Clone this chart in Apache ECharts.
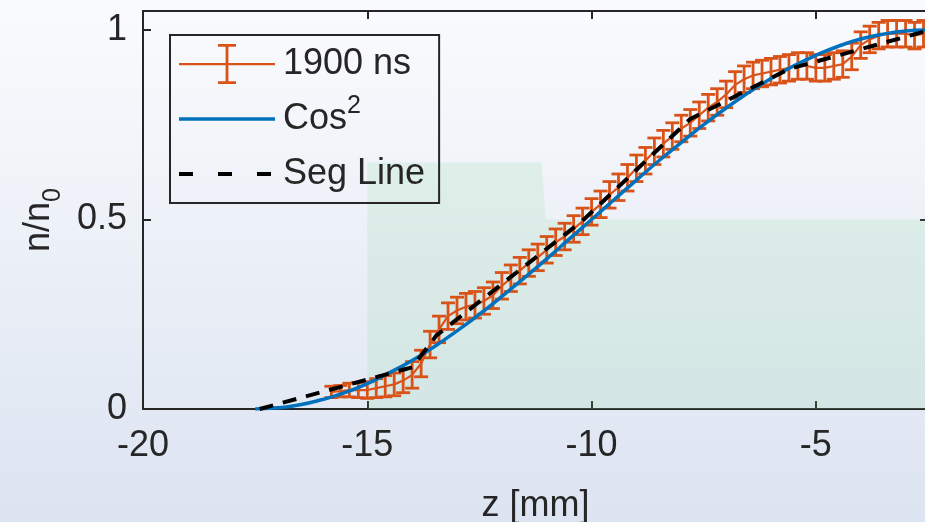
<!DOCTYPE html>
<html><head><meta charset="utf-8">
<script src="https://cdn.jsdelivr.net/npm/echarts@6/dist/echarts.min.js"></script>
<style>html,body{margin:0;padding:0;background:#fff}#c{width:925px;height:522px}</style>
</head><body><div id="c"></div>
<script>
// ---- data ----
const measZ = [-15.8,-15.6,-15.4,-15.2,-15.0,-14.8,-14.6,-14.4,-14.2,-14.0,-13.8,-13.6,-13.4,-13.2,-13.0,-12.8,-12.6,-12.4,-12.2,-12.0,-11.8,-11.6,-11.4,-11.2,-11.0,-10.8,-10.6,-10.4,-10.2,-10.0,-9.8,-9.6,-9.4,-9.2,-9.0,-8.8,-8.6,-8.4,-8.2,-8.0,-7.8,-7.6,-7.4,-7.2,-7.0,-6.8,-6.6,-6.4,-6.2,-6.0,-5.8,-5.6,-5.4,-5.2,-5.0,-4.8,-4.6,-4.4,-4.2,-4.0,-3.8,-3.6,-3.4,-3.2,-3.0,-2.8,-2.6];
const measN = [0.045,0.047,0.050,0.050,0.050,0.055,0.060,0.065,0.075,0.090,0.120,0.170,0.210,0.245,0.260,0.270,0.275,0.285,0.300,0.325,0.345,0.365,0.385,0.400,0.420,0.440,0.455,0.475,0.495,0.520,0.540,0.565,0.585,0.610,0.635,0.655,0.680,0.700,0.720,0.740,0.755,0.775,0.795,0.810,0.830,0.855,0.870,0.880,0.885,0.890,0.895,0.900,0.905,0.905,0.900,0.900,0.905,0.910,0.930,0.960,0.975,0.985,0.990,0.990,0.990,0.985,0.990];
const measErr = [0.015,0.015,0.018,0.020,0.022,0.025,0.028,0.030,0.032,0.035,0.035,0.035,0.035,0.035,0.035,0.035,0.035,0.035,0.035,0.035,0.035,0.035,0.035,0.035,0.035,0.035,0.035,0.035,0.035,0.035,0.035,0.035,0.035,0.035,0.035,0.035,0.035,0.035,0.035,0.035,0.035,0.035,0.035,0.035,0.035,0.035,0.035,0.035,0.035,0.035,0.035,0.035,0.035,0.035,0.035,0.035,0.035,0.035,0.035,0.035,0.035,0.035,0.035,0.035,0.035,0.035,0.035];
const cosZ = [-17.5,-17,-16.5,-16,-15.5,-15,-14.5,-14,-13.5,-13,-12.5,-12,-11.5,-11,-10.5,-10,-9.5,-9,-8.5,-8,-7.5,-7,-6.5,-6,-5.5,-5,-4.5,-4,-3.5,-3,-2.5];
const cosN = [0,0.003,0.011,0.025,0.043,0.067,0.096,0.128,0.165,0.206,0.250,0.297,0.346,0.396,0.448,0.500,0.552,0.604,0.655,0.703,0.750,0.794,0.835,0.872,0.905,0.933,0.957,0.976,0.989,0.997,1.000];
const segZ = [-17.4,-14.0,-13.45,-10.2,-7.8,-5.6,-2.6];
const segN = [0,0.110,0.195,0.497,0.765,0.897,0.995];
const patchZ = [-15,-11.12,-11.02,-2.5];
const patchN = [0.65,0.65,0.5,0.5];
const xTicks = [-20,-15,-10,-5];
const yTicks = [0,0.5,1];
const seriesNames = ['1900 ns','Cos2','Seg Line'];
const xLabel = 'z [mm]';

// ---- styles ----
const ORANGE = '#D95319', BLUE = '#0072BD', AX = '#262626';
const FONT = '"Liberation Sans", Arial, Helvetica, sans-serif';
const FS = 36;

const zip = (a, b) => a.map((v, i) => [v, b[i]]);
const errData = measZ.map((z, i) => [z, measN[i], measErr[i]]);

const chart = echarts.init(document.getElementById('c'), null, {renderer: 'canvas'});

const axisCommon = {
  axisLine: {show: true, onZero: false, lineStyle: {color: AX, width: 2}},
  axisTick: {show: true, inside: true, length: 8, lineStyle: {color: AX, width: 2}},
  splitLine: {show: false}
};

const option = {
  backgroundColor: {type: 'linear', x: 0, y: 0, x2: 0, y2: 1,
    colorStops: [{offset: 0, color: '#fafbfd'}, {offset: 1, color: '#dce4f1'}]},
  animation: false,
  textStyle: {fontFamily: FONT},
  grid: {left: 143, right: -3, top: 11, bottom: 113, containLabel: false, outerBoundsMode: 'none'},
  legend: {
    left: 170, top: 35, orient: 'vertical',
    padding: [4, 14, 4, 7],
    itemWidth: 96, itemHeight: 40, itemGap: 5,
    borderColor: AX, borderWidth: 2, backgroundColor: 'transparent',
    symbolKeepAspect: false,
    data: [
      {name: seriesNames[0], icon: 'path://M0 19 H96 V21.2 H0 Z M46.6 0 H49.4 V40 H46.6 Z M39 0 H57 V2.8 H39 Z M39 37.2 H57 V40 H39 Z'},
      {name: seriesNames[1], itemStyle: {opacity: 0}, lineStyle: {width: 3.5}},
      {name: seriesNames[2], itemStyle: {opacity: 0}, lineStyle: {width: 4, type: [14, 25]}}
    ],
    formatter: n => n === 'Cos2' ? 'Cos{s|2}' : n,
    textStyle: {fontFamily: FONT, fontSize: FS, color: AX, lineHeight: 50, padding: [0, 0, 0, 3],
      rich: {s: {fontFamily: FONT, fontSize: 25, color: AX, verticalAlign: 'top', lineHeight: 24}}}
  },
  xAxis: [
    Object.assign({type: 'value', min: -20, max: -2.5, interval: 5, position: 'bottom',
      name: xLabel, nameLocation: 'middle', nameGap: 79,
      nameTextStyle: {fontFamily: FONT, fontSize: FS, color: AX},
      axisLabel: {fontFamily: FONT, fontSize: FS, color: AX, margin: 19,
        formatter: v => xTicks.includes(v) ? String(v) : ''}}, axisCommon),
    Object.assign({type: 'value', min: -20, max: -2.5, interval: 5, position: 'top',
      axisLabel: {show: false}}, axisCommon)
  ],
  yAxis: [
    Object.assign({type: 'value', min: 0, max: 1.05, interval: 0.5, position: 'left',
      name: '{a|n/n}{b|0}', nameLocation: 'middle', nameRotate: 90, nameGap: 80,
      nameTextStyle: {padding: [0, 20, 0, 0], rich: {
        a: {fontFamily: FONT, fontSize: FS, color: AX, lineHeight: 36, verticalAlign: 'top'},
        b: {fontFamily: FONT, fontSize: 25, color: AX, lineHeight: 25, padding: [29, 0, 0, 0]}}},
      axisLabel: {fontFamily: FONT, fontSize: FS, color: AX, margin: 16,
        formatter: v => yTicks.includes(v) ? String(v) : ''}}, axisCommon),
    Object.assign({type: 'value', min: 0, max: 1.05, interval: 0.5, position: 'right',
      axisLabel: {show: false}}, axisCommon)
  ],
  series: [
    {name: 'patch', type: 'line', data: zip(patchZ, patchN), symbol: 'none', silent: true,
      lineStyle: {width: 0}, areaStyle: {color: 'rgba(141,216,161,0.25)', origin: 'start'}, z: 1},
    {name: seriesNames[0], type: 'line', data: zip(measZ, measN), symbol: 'none',
      itemStyle: {color: ORANGE}, lineStyle: {color: ORANGE, width: 2.2}, z: 3},
    {name: seriesNames[0], type: 'custom', data: errData, encode: {x: 0, y: 1}, z: 3,
      itemStyle: {color: ORANGE},
      renderItem: (params, api) => {
        const z = api.value(0), n = api.value(1), e = api.value(2);
        const hi = api.coord([z, n + e]), lo = api.coord([z, n - e]);
        const x = hi[0], hw = 7;
        const st = () => ({stroke: ORANGE, lineWidth: 2.8});
        return {type: 'group', children: [
          {type: 'line', shape: {x1: x, y1: hi[1], x2: x, y2: lo[1]}, style: st()},
          {type: 'line', shape: {x1: x - hw, y1: hi[1], x2: x + hw, y2: hi[1]}, style: st()},
          {type: 'line', shape: {x1: x - hw, y1: lo[1], x2: x + hw, y2: lo[1]}, style: st()}
        ]};
      }},
    {name: seriesNames[1], type: 'line', data: zip(cosZ, cosN), symbol: 'none', smooth: true,
      itemStyle: {color: BLUE}, lineStyle: {color: BLUE, width: 3.5}, z: 4},
    {name: seriesNames[2], type: 'line', data: zip(segZ, segN), symbol: 'none',
      itemStyle: {color: '#000'}, lineStyle: {color: '#000', width: 4, type: [14, 10]}, z: 5}
  ]
};
chart.setOption(option);
</script></body></html>
